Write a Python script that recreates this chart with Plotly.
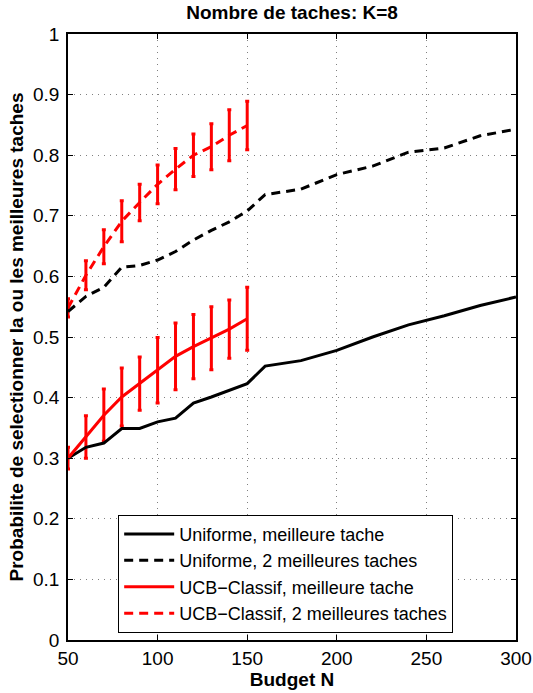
import plotly.graph_objects as go

#%% Data
budget_unif = [50, 60, 70, 80, 90, 100, 110, 120, 130, 140, 150, 160,
               180, 200, 220, 240, 260, 280, 300]
unif_best = [0.300, 0.318, 0.325, 0.349, 0.349, 0.360, 0.366, 0.391, 0.401,
             0.412, 0.423, 0.452, 0.461, 0.478, 0.500, 0.520, 0.535, 0.552,
             0.566]
unif_best2 = [0.542, 0.567, 0.582, 0.615, 0.618, 0.627, 0.641, 0.660, 0.676,
              0.690, 0.708, 0.735, 0.744, 0.768, 0.782, 0.805, 0.812, 0.832,
              0.843]

budget_ucb = [50, 60, 70, 80, 90, 100, 110, 120, 130, 140, 150]
ucb_best = [0.300, 0.335, 0.371, 0.401, 0.423, 0.445, 0.468, 0.484, 0.498,
            0.513, 0.530]
ucb_best_err = [0.018, 0.035, 0.043, 0.048, 0.044, 0.054, 0.055, 0.053,
                0.052, 0.048, 0.052]
ucb_best2 = [0.548, 0.602, 0.649, 0.691, 0.722, 0.752, 0.777, 0.800, 0.814,
             0.833, 0.849]
ucb_best2_err = [0.015, 0.024, 0.028, 0.034, 0.030, 0.032, 0.034, 0.035,
                 0.038, 0.042, 0.040]

#%% Figure
fig = go.Figure()

DASH = '9px,6px'

# error bars (drawn separately so the legend keeps plain lines)
for y, err in [(ucb_best, ucb_best_err), (ucb_best2, ucb_best2_err)]:
    fig.add_trace(go.Scatter(
        x=budget_ucb, y=y, mode='markers', showlegend=False,
        marker=dict(size=1, color='rgba(0,0,0,0)'),
        error_y=dict(type='data', array=err, visible=True,
                     color='#ff0000', thickness=3, width=2),
        hoverinfo='skip'))

fig.add_trace(go.Scatter(x=budget_unif, y=unif_best, mode='lines',
                         name='Uniforme, meilleure tache',
                         line=dict(color='black', width=3)))
fig.add_trace(go.Scatter(x=budget_unif, y=unif_best2, mode='lines',
                         name='Uniforme, 2 meilleures taches',
                         line=dict(color='black', width=3, dash=DASH)))
fig.add_trace(go.Scatter(x=budget_ucb, y=ucb_best, mode='lines',
                         name='UCB\u2212Classif, meilleure tache',
                         line=dict(color='#ff0000', width=3)))
fig.add_trace(go.Scatter(x=budget_ucb, y=ucb_best2, mode='lines',
                         name='UCB\u2212Classif, 2 meilleures taches',
                         line=dict(color='#ff0000', width=3, dash=DASH)))

axis_common = dict(
    showline=True, linecolor='black', linewidth=1.5, mirror='allticks',
    ticks='inside', ticklen=5, tickcolor='black',
    showgrid=True, gridcolor='#808080', griddash='1px,5px', gridwidth=1,
    zeroline=False, automargin=False,
    tickfont=dict(size=19, color='black'),
)

fig.update_layout(
    width=533, height=693,
    margin=dict(l=68, r=17, t=34, b=53),
    paper_bgcolor='white', plot_bgcolor='white',
    font=dict(family='Liberation Sans, Arial, sans-serif', color='black'),
    title=dict(text='<b>Nombre de taches: K=8</b>', x=0.548, xanchor='center',
               y=0.982, yanchor='middle', font=dict(size=19)),
    xaxis=dict(range=[50, 300], tickvals=[50, 100, 150, 200, 250, 300],
               title=dict(text='<b>Budget N</b>', font=dict(size=19),
                          standoff=0),
               **axis_common),
    yaxis=dict(range=[0, 1], tickvals=[i / 10 for i in range(11)],
               ticktext=['0', '0.1', '0.2', '0.3', '0.4', '0.5', '0.6',
                         '0.7', '0.8', '0.9', '1'],
               ticklabelstandoff=3,
               title=dict(text='<b>Probabilite de selectionner la ou les '
                               'meilleures taches</b>',
                          font=dict(size=19), standoff=4),
               **axis_common),
    legend=dict(x=0.112, y=0.012, xanchor='left', yanchor='bottom',
                bgcolor='white', bordercolor='black', borderwidth=1,
                font=dict(size=18), tracegroupgap=0, itemwidth=50),
    showlegend=True,
)

# drop the default 8px page margin so the figure fills the window
fig.write_html("out.html", config={'displayModeBar': False},
               post_script="document.body.style.margin='0';")
